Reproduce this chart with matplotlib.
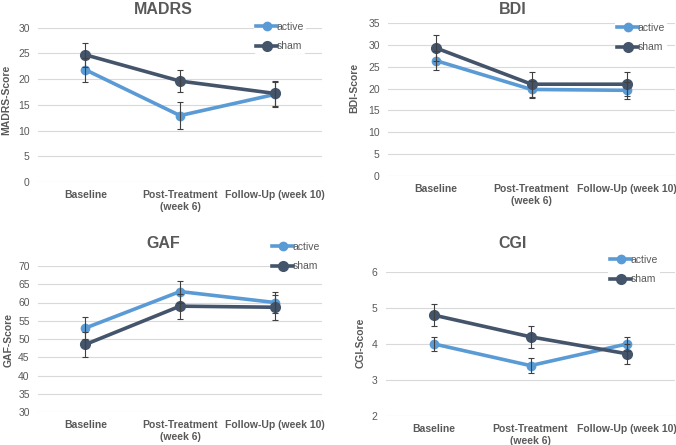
import numpy as np
import matplotlib
matplotlib.use("Agg")
import matplotlib.pyplot as plt

plt.rcParams['font.family'] = ['Liberation Sans', 'DejaVu Sans']

categories = ["Baseline", "Post-Treatment\n(week 6)", "Follow-Up (week 10)"]
series_names = ["active", "sham"]

# MADRS
madrs_active = [21.8, 12.9, 17.0]
madrs_active_err = [2.3, 2.6, 2.4]
madrs_sham = [24.7, 19.6, 17.2]
madrs_sham_err = [2.3, 2.2, 2.5]

# BDI
bdi_active = [26.4, 19.8, 19.6]
bdi_active_err = [2.1, 2.0, 2.0]
bdi_sham = [29.3, 21.0, 21.0]
bdi_sham_err = [2.9, 2.9, 2.7]

# GAF
gaf_active = [53.0, 63.0, 60.0]
gaf_active_err = [3.0, 3.0, 3.0]
gaf_sham = [48.5, 59.0, 58.7]
gaf_sham_err = [3.3, 3.4, 3.4]

# CGI
cgi_active = [4.0, 3.4, 4.0]
cgi_active_err = [0.2, 0.2, 0.2]
cgi_sham = [4.8, 4.2, 3.73]
cgi_sham_err = [0.3, 0.3, 0.28]

ACTIVE = "#5B9BD5"
SHAM = "#44546A"
GREY = "#595959"
W, H = 676, 445


def panel(fig, rect, title, title_xy, ylabel, ylabel_xy, ylim, ystep,
          active, active_err, sham, sham_err, leg_xy):
    ax = fig.add_axes([rect[0] / W, 1 - rect[1] / H, rect[2] / W, rect[3] / H])
    x = np.arange(len(categories))
    ax.plot(x, active, color=ACTIVE, lw=2.6, marker="o", ms=6,
            label=series_names[0], zorder=3, clip_on=False)
    ax.plot(x, sham, color=SHAM, lw=2.6, marker="o", ms=7,
            label=series_names[1], zorder=4, clip_on=False)
    ax.errorbar(x, active, yerr=active_err, fmt="none", ecolor="#404040",
                elinewidth=0.8, capsize=2.5, capthick=0.8, zorder=5)
    ax.errorbar(x, sham, yerr=sham_err, fmt="none", ecolor="#404040",
                elinewidth=0.8, capsize=2.5, capthick=0.8, zorder=5)
    ax.set_xlim(-0.5, 2.5)
    ax.set_ylim(*ylim)
    ax.set_yticks(np.arange(ylim[0], ylim[1] + 0.01, ystep))
    ax.set_xticks(x)
    ax.set_xticklabels(categories, fontsize=7.5, fontweight="bold", color=GREY)
    ax.tick_params(axis="y", labelsize=7.5, labelcolor=GREY, length=0, pad=6)
    ax.tick_params(axis="x", length=0, pad=6)
    ax.grid(axis="y", color="#D9D9D9", lw=0.8)
    ax.set_axisbelow(True)
    for s in ax.spines.values():
        s.set_visible(False)
    ax.set_ylabel(ylabel, fontsize=7.5, fontweight="bold", color=GREY,
                  va="center", ha="center")
    ax.yaxis.set_label_coords(ylabel_xy[0] / W, 1 - ylabel_xy[1] / H,
                              transform=fig.transFigure)
    fig.text(title_xy[0] / W, 1 - title_xy[1] / H, title, fontsize=11.5,
             fontweight="bold", color=GREY, ha="center", va="center")
    leg = ax.legend(loc="upper left", bbox_to_anchor=(leg_xy[0] / W, 1 - leg_xy[1] / H),
                    bbox_transform=fig.transFigure, frameon=True,
                    facecolor="white", edgecolor="none", framealpha=1,
                    fontsize=7.5, handlelength=2.0, handletextpad=0.0,
                    labelspacing=0.9, borderpad=0.2, borderaxespad=0)
    for t in leg.get_texts():
        t.set_color(GREY)
    leg.set_zorder(10)
    return ax


fig = plt.figure(figsize=(W / 100, H / 100), dpi=100)

panel(fig, (38, 182, 284, 154.5), "MADRS", (163, 9), "MADRS-Score", (6, 100),
      (0, 30), 5, madrs_active, madrs_active_err, madrs_sham, madrs_sham_err,
      (254, 20))

panel(fig, (388, 176, 287, 153), "BDI", (513, 9), "BDI-Score", (354, 88),
      (0, 35), 5, bdi_active, bdi_active_err, bdi_sham, bdi_sham_err,
      (615, 21))

panel(fig, (38, 412, 284, 146), "GAF", (163, 244), "GAF-Score", (9, 340),
      (30, 70), 5, gaf_active, gaf_active_err, gaf_sham, gaf_sham_err,
      (270, 240))

panel(fig, (386, 416, 289, 144), "CGI", (513, 244), "CGI-Score", (361, 343),
      (2, 6), 1, cgi_active, cgi_active_err, cgi_sham, cgi_sham_err,
      (608, 253))

fig.savefig("out.png", dpi=100, facecolor="white")
